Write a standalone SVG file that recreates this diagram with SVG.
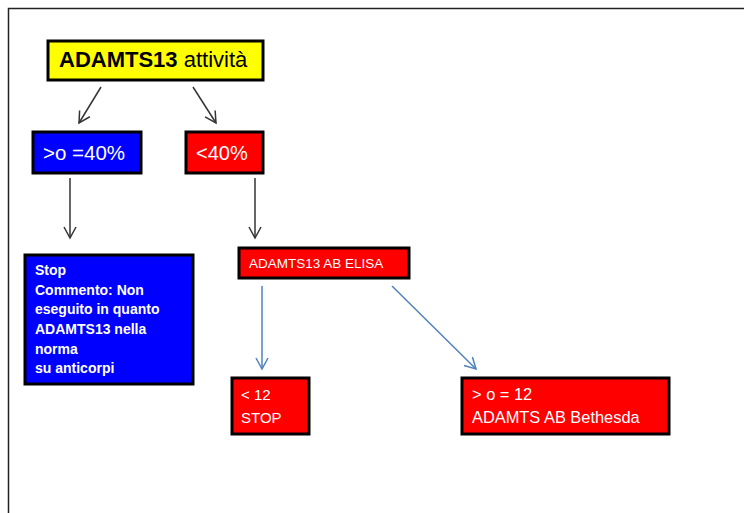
<svg xmlns="http://www.w3.org/2000/svg" width="744" height="513" viewBox="0 0 744 513">
<defs>
<style>
.box{stroke:#000;stroke-width:3}
.t{font-family:"Liberation Sans",Arial,sans-serif;fill:#fff}
.c{fill:none;stroke:#333;stroke-width:1.5}
.cb{fill:none;stroke:#4F81BD;stroke-width:1.5}
</style>
<marker id="ah" markerWidth="14" markerHeight="14" refX="12" refY="7" orient="auto" markerUnits="userSpaceOnUse">
<path d="M1,1 L12,7 L1,13" fill="none" stroke="#333" stroke-width="1.5"/>
</marker>
<marker id="ahb" markerWidth="14" markerHeight="14" refX="12" refY="7" orient="auto" markerUnits="userSpaceOnUse">
<path d="M1,1 L12,7 L1,13" fill="none" stroke="#4F81BD" stroke-width="1.5"/>
</marker>
</defs>
<rect width="744" height="513" fill="#fff"/>
<path d="M8.5,513 V8.5 H744" fill="none" stroke="#222" stroke-width="1.5"/>
<g id="connectors">
<line class="c" x1="101" y1="87" x2="79" y2="123" marker-end="url(#ah)"/>
<line class="c" x1="193" y1="87" x2="216" y2="123" marker-end="url(#ah)"/>
<line class="c" x1="70" y1="178" x2="70" y2="238" marker-end="url(#ah)"/>
<line class="c" x1="255" y1="178" x2="255" y2="238" marker-end="url(#ah)"/>
<line class="cb" x1="262" y1="286" x2="262" y2="369" marker-end="url(#ahb)"/>
<line class="cb" x1="392" y1="286" x2="476" y2="369" marker-end="url(#ahb)"/>
</g>
<g id="n-attivita">
<rect class="box" x="48" y="41" width="215" height="39" fill="#ffff00"/>
<text x="59" y="67" font-size="22" font-family="Liberation Sans,Arial,sans-serif" fill="#000"><tspan font-weight="bold">ADAMTS13</tspan> attività</text>
</g>
<g id="n-ge40">
<rect class="box" x="33" y="132" width="108" height="41" fill="#0000ff"/>
<text class="t" x="43" y="160" font-size="20.5">&gt;o =40%</text>
</g>
<g id="n-lt40">
<rect class="box" x="186" y="132" width="77" height="41" fill="#ff0000"/>
<text class="t" x="196" y="160" font-size="20">&lt;40%</text>
</g>
<g id="n-stop">
<rect class="box" x="25" y="255" width="168" height="129" fill="#0000ff"/>
<text class="t" font-size="14" font-weight="bold" fill="#eeeeff">
<tspan x="35" y="275">Stop</tspan>
<tspan x="35" y="295">Commento: Non</tspan>
<tspan x="35" y="314">eseguito in quanto</tspan>
<tspan x="35" y="334">ADAMTS13 nella</tspan>
<tspan x="35" y="354">norma</tspan>
<tspan x="35" y="373">su anticorpi</tspan>
</text>
</g>
<g id="n-elisa">
<rect class="box" x="239" y="248" width="170" height="30" fill="#ff0000"/>
<text class="t" x="249" y="268" font-size="13.5">ADAMTS13 AB ELISA</text>
</g>
<g id="n-lt12">
<rect class="box" x="232" y="378" width="77" height="56" fill="#ff0000"/>
<text class="t" font-size="15">
<tspan x="241" y="400">&lt; 12</tspan>
<tspan x="241" y="423">STOP</tspan>
</text>
</g>
<g id="n-ge12">
<rect class="box" x="462" y="378" width="207" height="56" fill="#ff0000"/>
<text class="t" font-size="16.4">
<tspan x="472" y="400">&gt; o = 12</tspan>
<tspan x="472" y="423">ADAMTS AB Bethesda</tspan>
</text>
</g>
</svg>
